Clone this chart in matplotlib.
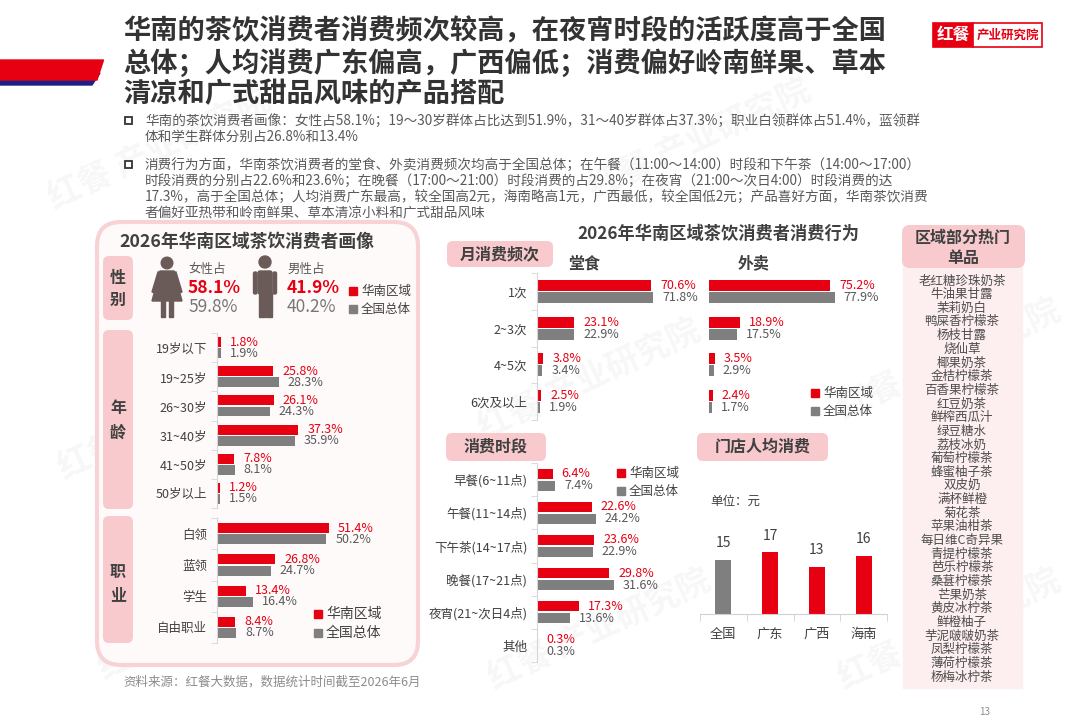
import matplotlib
matplotlib.use('Agg')
import matplotlib.pyplot as plt
from matplotlib.patches import Rectangle, FancyBboxPatch, Circle, Polygon
import numpy as np

plt.rcParams['font.family'] = ['Noto Sans CJK SC', 'DejaVu Sans']

RED = '#e60012'
GRAY = '#7f7f7f'
BLUE = '#1d2088'
PINK = '#f8c9cd'
TXT = '#404040'
TXT2 = '#595959'

# ---- 数据 ----
title_lines = ['华南的茶饮消费者消费频次较高，在夜宵时段的活跃度高于全国',
               '总体；人均消费广东偏高，广西偏低；消费偏好岭南鲜果、草本',
               '清凉和广式甜品风味的产品搭配']
bullet1 = ['华南的茶饮消费者画像：女性占58.1%；19～30岁群体占比达到51.9%，31～40岁群体占37.3%；职业白领群体占51.4%，蓝领群',
           '体和学生群体分别占26.8%和13.4%']
bullet2 = ['消费行为方面，华南茶饮消费者的堂食、外卖消费频次均高于全国总体；在午餐（11:00～14:00）时段和下午茶（14:00～17:00）',
           '时段消费的分别占22.6%和23.6%；在晚餐（17:00～21:00）时段消费的占29.8%；在夜宵（21:00～次日4:00）时段消费的达',
           '17.3%，高于全国总体；人均消费广东最高，较全国高2元，海南略高1元，广西最低，较全国低2元；产品喜好方面，华南茶饮消费',
           '者偏好亚热带和岭南鲜果、草本清凉小料和广式甜品风味']

gender_labels = ['女性占', '男性占']
gender_south = [58.1, 41.9]
gender_nation = [59.8, 40.2]

age_labels = ['19岁以下', '19~25岁', '26~30岁', '31~40岁', '41~50岁', '50岁以上']
age_south = [1.8, 25.8, 26.1, 37.3, 7.8, 1.2]
age_nation = [1.9, 28.3, 24.3, 35.9, 8.1, 1.5]

job_labels = ['白领', '蓝领', '学生', '自由职业']
job_south = [51.4, 26.8, 13.4, 8.4]
job_nation = [50.2, 24.7, 16.4, 8.7]

freq_labels = ['1次', '2~3次', '4~5次', '6次及以上']
dine_south = [70.6, 23.1, 3.8, 2.5]
dine_nation = [71.8, 22.9, 3.4, 1.9]
take_south = [75.2, 18.9, 3.5, 2.4]
take_nation = [77.9, 17.5, 2.9, 1.7]

time_labels = ['早餐(6~11点)', '午餐(11~14点)', '下午茶(14~17点)', '晚餐(17~21点)',
               '夜宵(21~次日4点)', '其他']
time_south = [6.4, 22.6, 23.6, 29.8, 17.3, 0.3]
time_nation = [7.4, 24.2, 22.9, 31.6, 13.6, 0.3]

price_labels = ['全国', '广东', '广西', '海南']
price_values = [15, 17, 13, 16]

hot_items = ['老红糖珍珠奶茶', '牛油果甘露', '茉莉奶白', '鸭屎香柠檬茶', '杨枝甘露', '烧仙草',
             '椰果奶茶', '金桔柠檬茶', '百香果柠檬茶', '红豆奶茶', '鲜榨西瓜汁', '绿豆糖水',
             '荔枝冰奶', '葡萄柠檬茶', '蜂蜜柚子茶', '双皮奶', '满杯鲜橙', '菊花茶',
             '苹果油柑茶', '每日维C奇异果', '青提柠檬茶', '芭乐柠檬茶', '桑葚柠檬茶', '芒果奶茶',
             '黄皮冰柠茶', '鲜橙柚子', '芋泥啵啵奶茶', '凤梨柠檬茶', '薄荷柠檬茶', '杨梅冰柠茶']

legend_names = ['华南区域', '全国总体']

# ---- 画布 ----
W, H = 1080, 720
fig = plt.figure(figsize=(10.8, 7.2), dpi=100)
bg = fig.add_axes([0, 0, 1, 1])
bg.set_xlim(0, W)
bg.set_ylim(H, 0)
bg.axis('off')


def px_axes(x0, y0, x1, y1):
    ax = fig.add_axes([x0 / W, 1 - y1 / H, (x1 - x0) / W, (y1 - y0) / H])
    ax.set_facecolor('none')
    return ax


def rbox(x0, y0, x1, y1, fc, r=6, ec='none', lw=0, z=1):
    bg.add_patch(FancyBboxPatch((x0, y0), x1 - x0, y1 - y0,
                                boxstyle=f'round,pad=0,rounding_size={r}',
                                fc=fc, ec=ec, lw=lw, zorder=z))


def legend(x, y, gap=18, fs=9):
    for k, c in enumerate([RED, GRAY]):
        yy = y + k * gap
        bg.add_patch(Rectangle((x, yy - 4), 8, 8, color=c, zorder=3))
        bg.text(x + 12, yy, legend_names[k], fontsize=fs, color=TXT,
                va='center', ha='left', zorder=3)


# 水印
for wx, wy in [(160, 150), (700, 140), (170, 420), (590, 380), (950, 360),
               (210, 620), (600, 630), (950, 630)]:
    bg.text(wx, wy, '红餐 产业研究院', fontsize=24, color='black', alpha=0.035,
            rotation=25, ha='center', va='center', fontweight='bold', zorder=0)

# 左上装饰条
bg.add_patch(Polygon([(0, 73), (100, 73), (92, 85), (0, 85)], color=BLUE, zorder=1))
bg.add_patch(Polygon([(0, 60), (103.5, 60), (97, 80), (0, 80)], color=RED, zorder=2))

# 标题
for k, line in enumerate(title_lines):
    bg.text(123, 32 + k * 31, line, fontsize=19.6, fontweight='bold', color='#333333',
            va='center', ha='left')

# logo
bg.add_patch(Rectangle((933, 23), 40, 24, fc=RED, ec=RED, lw=1.2, zorder=2))
bg.add_patch(Rectangle((973, 23), 69, 24, fc='white', ec=RED, lw=1.2, zorder=2))
bg.text(953, 35, '红餐', fontsize=12, fontweight='bold', color='white',
        ha='center', va='center', zorder=3)
bg.text(1007.5, 35, '产业研究院', fontsize=9, fontweight='bold', color=RED,
        ha='center', va='center', zorder=3)

# 要点
for lines, y0 in [(bullet1, 121), (bullet2, 165)]:
    bg.add_patch(Rectangle((125, y0 - 4), 7, 7, fc='none', ec='#333333', lw=1.3))
    for k, line in enumerate(lines):
        bg.text(145, y0 + k * 16, line, fontsize=9.8, color=TXT2, va='center', ha='left')

# ---- 左侧面板：消费者画像 ----
rbox(97, 222, 418, 665, fc='#fffafa', r=24, ec='#f8d3d6', lw=3, z=1)
bg.text(247, 242, '2026年华南区域茶饮消费者画像', fontsize=12.8, fontweight='bold',
        color=TXT, ha='center', va='center', zorder=3)

for (y0, y1, chars, cy) in [(256, 320, '性别', (278, 300)),
                             (330, 509, '年龄', (408, 433)),
                             (516, 643, '职业', (572, 595))]:
    rbox(103, y0, 133, y1, fc=PINK, r=6, z=2)
    for ch, yy in zip(chars, cy):
        bg.text(118, yy, ch, fontsize=11.5, fontweight='bold', color=TXT,
                ha='center', va='center', zorder=3)

# 人形图标
ICON = '#6b5b58'
bg.add_patch(Circle((167, 263), 5.8, color=ICON, zorder=3))
bg.add_patch(Polygon([(160, 271), (174, 271), (182, 301), (152, 301)], color=ICON, zorder=3))
bg.add_patch(Polygon([(158, 272), (161, 272), (155, 293), (152, 292)], color=ICON, zorder=3))
bg.add_patch(Polygon([(173, 272), (176, 272), (182, 292), (179, 293)], color=ICON, zorder=3))
bg.add_patch(Rectangle((161, 300), 4, 17, color=ICON, zorder=3))
bg.add_patch(Rectangle((169, 300), 4, 17, color=ICON, zorder=3))

bg.add_patch(Circle((265, 262), 6, color=ICON, zorder=3))
bg.add_patch(FancyBboxPatch((258, 271), 14, 23, boxstyle='round,pad=0,rounding_size=2',
                            color=ICON, zorder=3))
bg.add_patch(FancyBboxPatch((253.5, 272), 3.5, 22, boxstyle='round,pad=0,rounding_size=1.5',
                            color=ICON, zorder=3))
bg.add_patch(FancyBboxPatch((273, 272), 3.5, 22, boxstyle='round,pad=0,rounding_size=1.5',
                            color=ICON, zorder=3))
bg.add_patch(Rectangle((258.5, 293), 6, 24, color=ICON, zorder=3))
bg.add_patch(Rectangle((265.5, 293), 6, 24, color=ICON, zorder=3))

for k, gx in enumerate([188, 287]):
    bg.text(gx, 269, gender_labels[k], fontsize=9, color=TXT2, ha='left', va='center', zorder=3)
    bg.text(gx, 288, f'{gender_south[k]}%', fontsize=12.5, fontweight='bold', color=RED,
            ha='left', va='center', zorder=3)
    bg.text(gx, 307, f'{gender_nation[k]}%', fontsize=12.5, color='#777777',
            ha='left', va='center', zorder=3)
legend(349, 291)


def pair_chart(x0, y0, x1, y1, labels, south, nation, scale, bar_h, off,
               spine=True, fs=9):
    ax = px_axes(x0, y0, x1, y1)
    pos = np.arange(len(labels))
    ax.barh(pos - off, south, height=bar_h, color=RED)
    ax.barh(pos + off, nation, height=bar_h, color=GRAY)
    ax.set_xlim(0, (x1 - x0) / scale)
    ax.set_ylim(len(labels) - 0.5, -0.5)
    for i in range(len(labels)):
        ax.annotate(f'{south[i]}%', (south[i], pos[i] - off), xytext=(6.5, 0),
                    textcoords='offset points', va='center', ha='left',
                    color=RED, fontsize=fs)
        ax.annotate(f'{nation[i]}%', (nation[i], pos[i] + off), xytext=(6.5, 0),
                    textcoords='offset points', va='center', ha='left',
                    color=TXT2, fontsize=fs)
    for s in ['top', 'right', 'bottom']:
        ax.spines[s].set_visible(False)
    ax.set_xticks([])
    if spine:
        ax.spines['left'].set_color('#d6d6d6')
        ax.set_yticks(pos)
        ax.set_yticklabels(labels, fontsize=fs, color=TXT)
        ax.set_yticks(np.arange(len(labels) + 1) - 0.5, minor=True)
        ax.tick_params(axis='y', which='major', length=0, pad=7)
        ax.tick_params(axis='y', which='minor', length=4, color='#d6d6d6')
    else:
        ax.spines['left'].set_visible(False)
        ax.set_yticks([])
    return ax


pair_chart(217, 333, 410, 508, age_labels, age_south, age_nation, 2.175, 0.34, 0.19)
pair_chart(217, 518, 410, 643, job_labels, job_south, job_nation, 2.175, 0.32, 0.18)
legend(314, 614, gap=19, fs=10)

bg.text(123, 682, '资料来源：红餐大数据，数据统计时间截至2026年6月', fontsize=9,
        color='#8c8c8c', ha='left', va='center')

# ---- 中部：消费行为 ----
bg.text(718, 234, '2026年华南区域茶饮消费者消费行为', fontsize=12.4, fontweight='bold',
        color=TXT, ha='center', va='center')


def tag(x0, y0, x1, y1, text):
    rbox(x0, y0, x1, y1, fc=PINK, r=6, z=2)
    bg.text((x0 + x1) / 2, (y0 + y1) / 2, text, fontsize=11.5, fontweight='bold',
            color=TXT, ha='center', va='center', zorder=3)


tag(447, 241, 553, 267, '月消费频次')
bg.text(568, 263, '堂食', fontsize=11.5, fontweight='bold', color=TXT, ha='left', va='center')
bg.text(738, 263, '外卖', fontsize=11.5, fontweight='bold', color=TXT, ha='left', va='center')
pair_chart(537, 273, 700, 420, freq_labels, dine_south, dine_nation, 1.615, 0.3, 0.165)
pair_chart(709, 273, 880, 420, freq_labels, take_south, take_nation, 1.615, 0.3, 0.165,
           spine=False)
legend(811, 393)

tag(446, 433, 546, 461, '消费时段')
pair_chart(537, 463, 690, 662, time_labels, time_south, time_nation, 2.43, 0.3, 0.18)
legend(617, 473)

tag(697, 433, 828, 461, '门店人均消费')
bg.text(710, 501, '单位：元', fontsize=9, color=TXT, ha='left', va='center')
pax = px_axes(700, 500, 887, 614)
pos = np.arange(len(price_labels))
pax.bar(pos, price_values, width=0.34, color=[GRAY, RED, RED, RED])
for i, v in enumerate(price_values):
    pax.annotate(str(v), (i, v), xytext=(0, 12), textcoords='offset points',
                 ha='center', va='center', fontsize=10, color=TXT)
pax.set_xlim(-0.5, 3.5)
pax.set_ylim(0, 114 / 3.62)
pax.set_yticks([])
pax.set_xticks(pos)
pax.set_xticklabels(price_labels, fontsize=9.5, color=TXT)
pax.set_xticks(np.arange(len(price_labels) + 1) - 0.5, minor=True)
pax.tick_params(axis='x', which='major', length=0, pad=10)
pax.tick_params(axis='x', which='minor', length=5, color='#d0d0d0')
for s in ['top', 'right', 'left']:
    pax.spines[s].set_visible(False)
pax.spines['bottom'].set_color('#d0d0d0')

# ---- 右侧：热门单品 ----
bg.add_patch(Rectangle((903, 262), 119, 426, color='#fdeef0', zorder=1))
rbox(902, 225, 1025, 268, fc=PINK, r=8, z=2)
bg.text(963, 238, '区域部分热门', fontsize=11.5, fontweight='bold', color=TXT,
        ha='center', va='center', zorder=3)
bg.text(963, 258, '单品', fontsize=11.5, fontweight='bold', color=TXT,
        ha='center', va='center', zorder=3)
step = (677 - 281) / (len(hot_items) - 1)
for k, item in enumerate(hot_items):
    bg.text(962, 281 + k * step, item, fontsize=9, color='#4d4d4d',
            ha='center', va='center', zorder=3)

bg.text(985, 712, '13', fontsize=7, color='#8c8c8c', ha='center', va='center')

fig.savefig('out.png', dpi=100)
